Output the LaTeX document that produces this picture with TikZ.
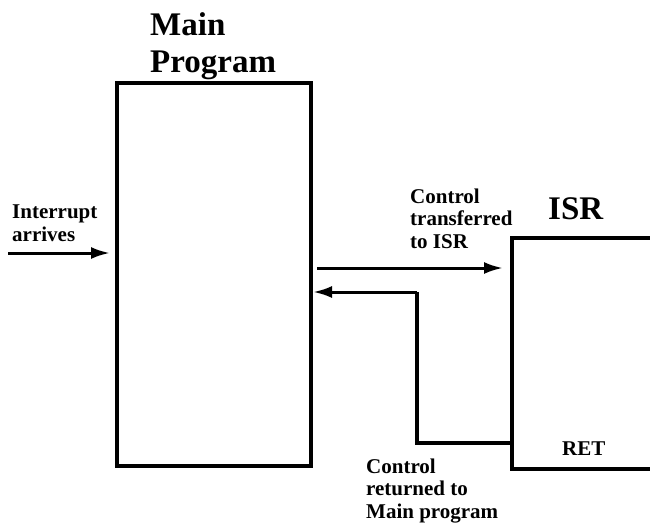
\documentclass[tikz,border=0pt]{standalone}
\usepackage{fontspec}
\setmainfont{Liberation Serif}
\usetikzlibrary{arrows.meta}
\begin{document}
\begin{tikzpicture}[x=1pt,y=-1pt,
  box/.style={draw,line width=4pt,inner sep=0pt},
  wire/.style={line width=4pt},
  arr/.style={line width=3pt,-{Latex[length=19pt,width=12pt]}},
  big/.style={font=\fontsize{33}{37}\selectfont\bfseries,align=left,inner sep=0pt,anchor=base west},
  small/.style={font=\fontsize{21}{22.5}\selectfont\bfseries,align=left,inner sep=0pt,anchor=base west}]
\useasboundingbox (0,0) rectangle (650,522);
% main program box
\node[box,minimum width=194pt,minimum height=383pt] (main) at (214,274.5) {};
% ISR box (open to the right)
\coordinate (isrTR) at (652,238);
\coordinate (isrTL) at (512,238);
\coordinate (isrBL) at (512,469);
\coordinate (isrBR) at (652,469);
\draw[wire] (isrTR) -- (isrTL) -- (isrBL) -- (isrBR);
% labels (anchored at the baseline of the last line)
\node[big] (mainlbl) at (150,72) {Main\\Program};
\node[big] (isrlbl) at (548,219) {ISR};
\node[small] (intlbl) at (12,241) {Interrupt\\arrives};
\node[small] (ctrl) at (410,248) {Control\\transferred\\to ISR};
\node[small] (ret) at (562,455) {RET};
\node[small] (back) at (366,518) {Control\\returned to\\Main program};
% connectors
\coordinate (intS) at (8,253);
\coordinate (intE) at (110,253);
\draw[arr] (intS) -- (intE);
\coordinate (trS) at (317,268);
\coordinate (trE) at (503,268);
\draw[arr] (trS) -- (trE);
\coordinate (rA) at (512,443);
\coordinate (rB) at (417,443);
\coordinate (rC) at (417,292);
\coordinate (rD) at (313,292);
\draw[wire] (rA) -- (rB) -- (rC);
\draw[arr] (rC) -- (rD);
\end{tikzpicture}
\end{document}
